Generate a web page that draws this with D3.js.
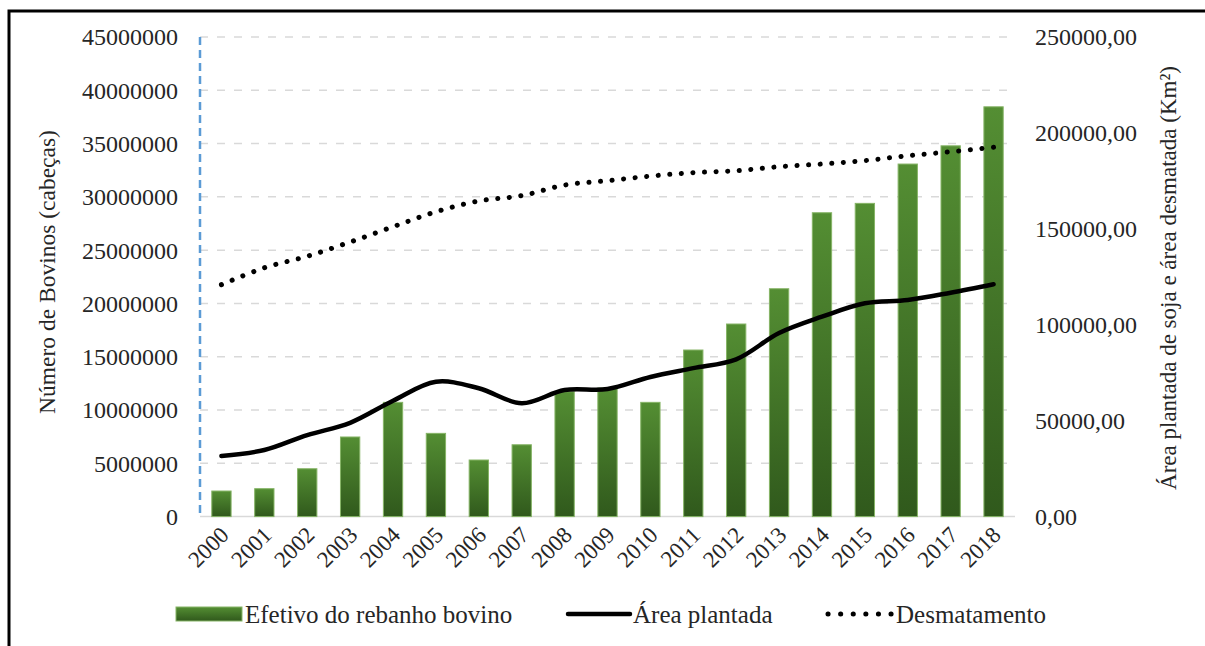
<!DOCTYPE html>
<html>
<head>
<meta charset="utf-8">
<script src="https://cdn.jsdelivr.net/npm/d3@7"></script>
<style>
  body { margin: 0; background: #fff; }
  svg text { font-family: "Liberation Serif", "Times New Roman", serif; fill: #262626; }
</style>
</head>
<body>
<svg></svg>
<script>
var width = 1205,
    height = 646;

// data
var years = ["2000", "2001", "2002", "2003", "2004", "2005", "2006", "2007", "2008", "2009",
             "2010", "2011", "2012", "2013", "2014", "2015", "2016", "2017", "2018"];
var rebanho = [2400000, 2620000, 4490000, 7470000, 10720000, 7810000, 5310000, 6740000, 11720000, 12060000,
               10720000, 15630000, 18070000, 21380000, 28510000, 29390000, 33080000, 34790000, 38450000];
var areaPlantada = [31600, 34700, 42500, 48900, 60400, 70300, 66900, 59100, 66000, 66500,
                    72800, 77400, 82000, 95700, 104200, 111200, 112900, 116700, 121100];
var desmatamento = [120900, 129700, 135700, 143100, 151100, 158900, 164500, 167300, 172800, 175100,
                    177500, 179300, 180300, 182400, 183800, 185600, 188100, 190200, 192500];
var leftTicks = [0, 5000000, 10000000, 15000000, 20000000, 25000000, 30000000, 35000000, 40000000, 45000000];
var rightTicks = [0, 50000, 100000, 150000, 200000, 250000];
var legendLabels = ["Efetivo do rebanho bovino", "Área plantada", "Desmatamento"];

var pLeft = 200, pRight = 1015, pTop = 37, pBottom = 516.6;

var svg = d3.select("svg")
    .attr("width", width)
    .attr("height", height);

var defs = svg.append("defs");
var grad = defs.append("linearGradient")
    .attr("id", "barGrad")
    .attr("x1", 0).attr("y1", 0).attr("x2", 0).attr("y2", 1);
grad.append("stop").attr("offset", "0%").attr("stop-color", "#548e33");
grad.append("stop").attr("offset", "100%").attr("stop-color", "#30591c");

var x = d3.scaleBand()
    .domain(years)
    .range([pLeft, pRight])
    .paddingInner(0.55)
    .paddingOuter(0.275);

var yL = d3.scaleLinear().domain([0, 45000000]).range([pBottom, pTop]);
var yR = d3.scaleLinear().domain([0, 250000]).range([pBottom, pTop]);

// frame
svg.append("path")
    .attr("d", "M9,646V11H1205")
    .attr("fill", "none")
    .attr("stroke", "#000")
    .attr("stroke-width", 3);

// gridlines
svg.append("g")
    .selectAll("line")
    .data(leftTicks.slice(1))
    .enter().append("line")
    .attr("x1", pLeft).attr("x2", pRight)
    .attr("y1", d => yL(d)).attr("y2", d => yL(d))
    .attr("stroke", "#d9d9d9")
    .attr("stroke-width", 1.5)
    .attr("stroke-dasharray", "8,9");

// baseline
svg.append("line")
    .attr("x1", pLeft).attr("x2", pRight)
    .attr("y1", pBottom).attr("y2", pBottom)
    .attr("stroke", "#d9d9d9")
    .attr("stroke-width", 1.5);

// blue dashed left axis line
svg.append("line")
    .attr("x1", pLeft).attr("x2", pLeft)
    .attr("y1", pTop).attr("y2", pBottom)
    .attr("stroke", "#5b9bd5")
    .attr("stroke-width", 2.5)
    .attr("stroke-dasharray", "8,5");

// bars
svg.append("g")
    .selectAll("rect")
    .data(rebanho)
    .enter().append("rect")
    .attr("x", (d, i) => x(years[i]))
    .attr("y", d => yL(d))
    .attr("width", x.bandwidth())
    .attr("height", d => pBottom - yL(d))
    .attr("fill", "url(#barGrad)")
    .attr("stroke", "#86b466")
    .attr("stroke-width", 1);

var cx = (d, i) => x(years[i]) + x.bandwidth() / 2;

var lineArea = d3.line()
    .x(cx)
    .y(d => yR(d))
    .curve(d3.curveCatmullRom.alpha(0.5));

svg.append("path")
    .attr("d", lineArea(areaPlantada))
    .attr("fill", "none")
    .attr("stroke", "#000")
    .attr("stroke-width", 4.5)
    .attr("stroke-linecap", "round")
    .attr("stroke-linejoin", "round");

svg.append("path")
    .attr("d", lineArea(desmatamento))
    .attr("fill", "none")
    .attr("stroke", "#000")
    .attr("stroke-width", 5)
    .attr("stroke-linecap", "round")
    .attr("stroke-dasharray", "0.1,11.5");

// left axis labels
svg.append("g")
    .selectAll("text")
    .data(leftTicks)
    .enter().append("text")
    .attr("x", 178)
    .attr("y", d => yL(d))
    .attr("dy", "0.35em")
    .attr("text-anchor", "end")
    .style("font-size", "24px")
    .text(d => d3.format("d")(d));

// right axis labels
svg.append("g")
    .selectAll("text")
    .data(rightTicks)
    .enter().append("text")
    .attr("x", 1035)
    .attr("y", d => yR(d))
    .attr("dy", "0.35em")
    .attr("text-anchor", "start")
    .style("font-size", "24px")
    .text(d => d3.format(".2f")(d).replace(".", ","));

// x labels
svg.append("g")
    .selectAll("text")
    .data(years)
    .enter().append("text")
    .attr("transform", d => "translate(" + (x(d) + x.bandwidth() / 2 + 3) + "," + (pBottom + 14) + ") rotate(-45)")
    .attr("text-anchor", "end")
    .attr("dy", "0.35em")
    .style("font-size", "23px")
    .text(d => d);

// axis titles
svg.append("text")
    .attr("transform", "translate(47,272) rotate(-90)")
    .attr("text-anchor", "middle")
    .attr("dy", "0.35em")
    .style("font-size", "23.5px")
    .text("Número de Bovinos (cabeças)");

svg.append("text")
    .attr("transform", "translate(1168,278) rotate(-90)")
    .attr("text-anchor", "middle")
    .attr("dy", "0.35em")
    .style("font-size", "23px")
    .text("Área plantada de soja e área desmatada (Km²)");

// legend
var ly = 614;
var lg = svg.append("g");
lg.append("rect")
    .attr("x", 176).attr("y", ly - 7)
    .attr("width", 66).attr("height", 14)
    .attr("fill", "url(#barGrad)")
    .attr("stroke", "#86b466");
lg.append("text")
    .attr("x", 245).attr("y", ly).attr("dy", "0.35em")
    .style("font-size", "25px")
    .text(legendLabels[0]);

lg.append("line")
    .attr("x1", 568).attr("x2", 630)
    .attr("y1", ly).attr("y2", ly)
    .attr("stroke", "#000").attr("stroke-width", 4.5)
    .attr("stroke-linecap", "round");
lg.append("text")
    .attr("x", 633).attr("y", ly).attr("dy", "0.35em")
    .style("font-size", "25px")
    .text(legendLabels[1]);

lg.append("line")
    .attr("x1", 828).attr("x2", 892)
    .attr("y1", ly).attr("y2", ly)
    .attr("stroke", "#000").attr("stroke-width", 5)
    .attr("stroke-linecap", "round")
    .attr("stroke-dasharray", "0.1,12.5");
lg.append("text")
    .attr("x", 896).attr("y", ly).attr("dy", "0.35em")
    .style("font-size", "25px")
    .text(legendLabels[2]);
</script>
</body>
</html>
